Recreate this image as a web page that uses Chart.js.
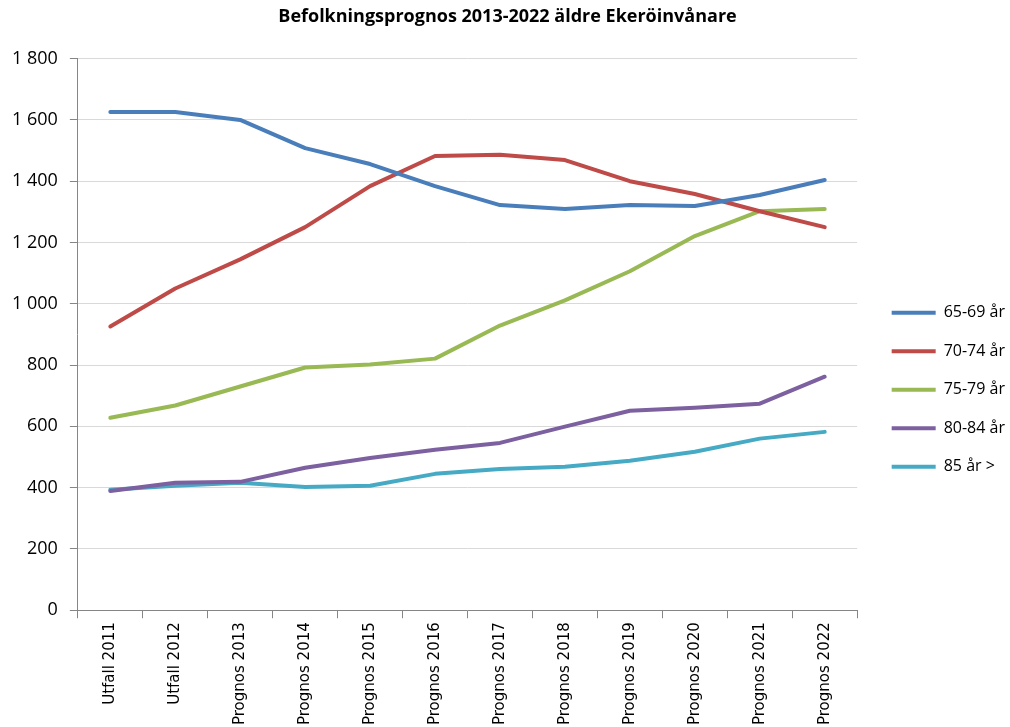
<!DOCTYPE html>
<html>
<head>
<meta charset="utf-8">
<script src="https://cdn.jsdelivr.net/npm/chart.js@4"></script>
<style>
    html, body { margin: 0; padding: 0; background: #fff; }
</style>
</head>
<body>
<canvas id="prognos-canvas" width="1010" height="727"></canvas>
<script>
const categories = [
    "Utfall 2011", "Utfall 2012", "Prognos 2013", "Prognos 2014",
    "Prognos 2015", "Prognos 2016", "Prognos 2017", "Prognos 2018",
    "Prognos 2019", "Prognos 2020", "Prognos 2021", "Prognos 2022"
];

const age65to69 = [1626, 1626, 1600, 1508, 1456, 1384, 1322, 1309, 1322, 1319, 1355, 1404];
const age70to74 = [926, 1050, 1145, 1250, 1384, 1482, 1486, 1469, 1400, 1358, 1302, 1250];
const age75to79 = [628, 668, 730, 792, 802, 821, 929, 1011, 1106, 1221, 1302, 1309];
const age80to84 = [389, 416, 419, 465, 497, 524, 546, 599, 651, 661, 674, 762];
const age85plus = [393, 406, 416, 402, 406, 445, 461, 468, 488, 517, 560, 582];

const seriesNames = ["65-69 år", "70-74 år", "75-79 år", "80-84 år", "85 år >"];

const yMin = 0;
const yMax = 1800;
const yStep = 200;

const chartTitle = "Befolkningsprognos 2013-2022 äldre Ekeröinvånare";

// 1800 -> "1 800"
function formatThousands(value) {
    return String(value).replace(/\B(?=(\d{3})+(?!\d))/g, "\u00a0");
}

function lineDataset(label, data, color) {
    return {
        label: label,
        data: data,
        borderColor: color,
        backgroundColor: color,
        borderWidth: 4,
        borderCapStyle: 'round',
        borderJoinStyle: 'round',
        pointRadius: 0,
        pointHoverRadius: 0,
        tension: 0,
        fill: false,
    };
}

const axisColor = '#868686';

/**
 * @type {HTMLCanvasElement}
 */
const prognosCanvas = document.querySelector("#prognos-canvas");

const prognosChart = new Chart(prognosCanvas, {
    type: 'line',
    data: {
        labels: categories,
        datasets: [
            lineDataset(seriesNames[0], age65to69, '#4A7EBB'),
            lineDataset(seriesNames[1], age70to74, '#BE4B48'),
            lineDataset(seriesNames[2], age75to79, '#98B954'),
            lineDataset(seriesNames[3], age80to84, '#7D60A0'),
            lineDataset(seriesNames[4], age85plus, '#46AAC5'),
        ]
    },
    options: {
        responsive: false,
        animation: false,
        layout: {
            // legend text runs right up to the edge in the original
            padding: {top: 0, left: 0, right: -5, bottom: -2}
        },
        scales: {
            x: {
                offset: true,
                grid: {
                    display: true,
                    offset: true,
                    drawOnChartArea: false,
                    drawTicks: true,
                    tickLength: 8,
                    color: axisColor,
                },
                border: {color: axisColor},
                ticks: {
                    autoSkip: false,
                    minRotation: 90,
                    maxRotation: 90,
                    padding: 4,
                    color: '#000',
                    font: {family: 'DejaVu Sans', size: 15},
                }
            },
            y: {
                min: yMin,
                max: yMax,
                grid: {
                    color: '#d9d9d9',
                    tickColor: axisColor,
                    tickLength: 8,
                },
                border: {color: axisColor},
                ticks: {
                    stepSize: yStep,
                    padding: 12,
                    color: '#000',
                    font: {family: 'Open Sans', size: 18},
                    callback: value => formatThousands(value),
                }
            },
            spacer: {
                position: 'right',
                display: true,
                grid: {display: false},
                border: {display: false},
                ticks: {display: false},
                afterFit: scale => { scale.width = 12; }
            }
        },
        plugins: {
            title: {
                display: true,
                text: chartTitle,
                color: '#000',
                font: {family: 'Open Sans', size: 18, weight: 'bold'},
                padding: {top: 6, bottom: 31},
            },
            legend: {
                position: 'right',
                title: {
                    display: true,
                    text: ' ',
                    font: {size: 12},
                    padding: {top: 36, bottom: 0},
                },
                labels: {
                    usePointStyle: true,
                    pointStyle: 'line',
                    pointStyleWidth: 44,
                    padding: 22.5,
                    color: '#000',
                    font: {family: 'Open Sans', size: 16},
                }
            },
            tooltip: {enabled: false}
        }
    }
});
</script>
</body>
</html>
